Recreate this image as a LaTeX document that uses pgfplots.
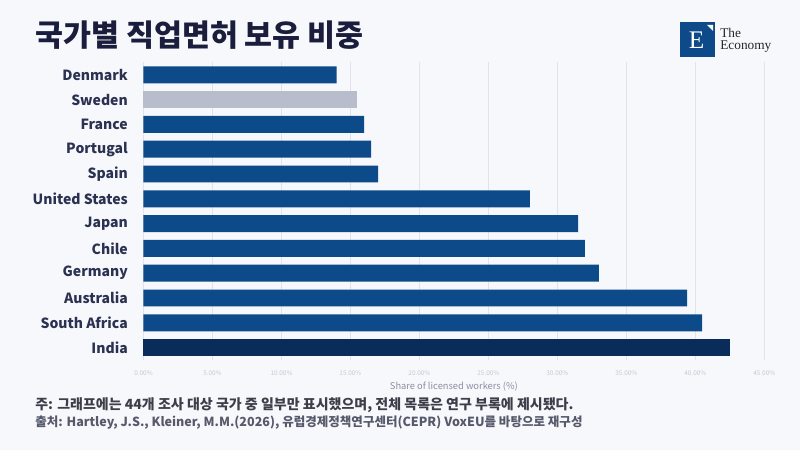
\documentclass[border=0pt]{standalone}
\usepackage{pgfplots}
\pgfplotsset{compat=1.18}
\usepackage{fontspec}
\setmainfont{Noto Sans CJK KR}
\newfontfamily\logofont{Liberation Serif}
\definecolor{bg}{HTML}{F7F8FC}
\definecolor{barblue}{HTML}{0C4A89}
\definecolor{barnavy}{HTML}{0A2C5A}
\definecolor{bargray}{HTML}{B8BDCC}
\definecolor{gridc}{HTML}{E2E3EA}
\definecolor{titlec}{HTML}{1A1E3C}
\definecolor{labc}{HTML}{2B3151}
\definecolor{tickc}{HTML}{C5C8D5}
\definecolor{xlabc}{HTML}{8A8FA3}
\definecolor{note1}{HTML}{3C3F4A}
\definecolor{note2}{HTML}{55596A}
\definecolor{logoblue}{HTML}{0E4A8A}
\begin{document}
\begin{tikzpicture}
\fill[bg] (0pt,0pt) rectangle (600pt,337.5pt);
\useasboundingbox (0pt,0pt) rectangle (600pt,337.5pt);
\begin{axis}[
  at={(107.625pt,67.5pt)}, anchor=south west,
  scale only axis, width=465.6pt, height=223.2pt,
  xmin=0, xmax=45, ymin=-0.5, ymax=11.5,
  axis line style={draw=none},
  xmajorgrids, major grid style={gridc, line width=0.6pt},
  xtick={0,5,...,45},
  xticklabel={\pgfmathprintnumber[fixed,fixed zerofill,precision=2]{\tick}\%},
  /pgf/number format/assume math mode=true,
  xticklabel style={font=\fontsize{4.8}{5}\selectfont, text=tickc, anchor=center, yshift=-9.75pt},
  ytick={0,...,11},
  yticklabels={India,South Africa,Australia,Germany,Chile,Japan,United States,Spain,Portugal,France,Sweden,Denmark},
  yticklabel style={font=\fontsize{10.5}{12}\selectfont\bfseries, text=labc, anchor=east, inner sep=0pt, xshift=-11.6pt},
  major tick length=0pt,
  xlabel={Share of licensed workers (\%)},
  xlabel style={font=\fontsize{7}{8}\selectfont, text=xlabc, at={(axis description cs:0.5,0)}, anchor=center, yshift=-20.25pt},
  xbar, bar shift=0pt, bar width=0.685,
  clip=false,
]
\addplot[fill=barblue, draw=none] coordinates {
 (40.5,1) (39.4,2) (33.0,3) (32.0,4) (31.5,5) (28.0,6) (17.0,7) (16.5,8) (16.0,9) (14.0,11)
};
\addplot[fill=bargray, draw=none] coordinates {(15.5,10)};
\addplot[fill=barnavy, draw=none] coordinates {(42.5,0)};
\end{axis}
% title
\node[anchor=west, inner sep=0pt, text=titlec, font=\fontsize{22.8}{24}\selectfont\bfseries] at (26.25pt,311.25pt) {국가별 직업면허 보유 비중};
% logo
\fill[logoblue] (510pt,294.75pt) rectangle (536.25pt,321pt);
\fill[white] (530.25pt,318.75pt) -- (534.75pt,318.75pt) -- (534.75pt,314.25pt) -- cycle;
\node[text=white, inner sep=0pt, font=\logofont\fontsize{19}{20}\selectfont] at (522.4pt,307.1pt) {E};
\node[anchor=base west, inner sep=0pt, text=black!85, font=\logofont\fontsize{10}{11}\selectfont] at (540pt,309.2pt) {The};
\node[anchor=base west, inner sep=0pt, text=black!85, font=\logofont\fontsize{10}{11}\selectfont] at (540pt,300.5pt) {Economy};
% notes
\node[anchor=west, inner sep=0pt, text=note1, font=\fontsize{10.5}{12}\selectfont\bfseries] at (26.25pt,33.75pt) {주: 그래프에는 44개 조사 대상 국가 중 일부만 표시했으며, 전체 목록은 연구 부록에 제시됐다.};
\node[anchor=west, inner sep=0pt, text=note2, font=\fontsize{9.4}{11}\selectfont\bfseries] at (26.25pt,20.25pt) {출처: Hartley, J.S., Kleiner, M.M.(2026), 유럽경제정책연구센터(CEPR) VoxEU를 바탕으로 재구성};
\end{tikzpicture}
\end{document}
